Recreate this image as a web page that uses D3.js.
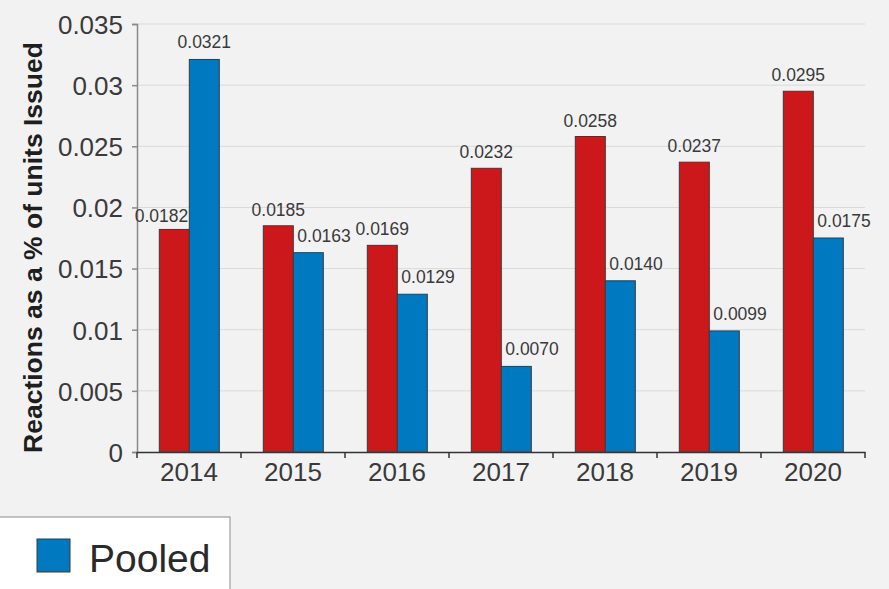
<!DOCTYPE html>
<html>
<head>
<meta charset="utf-8">
<script src="https://cdn.jsdelivr.net/npm/d3@7"></script>
<style>
  html, body { margin: 0; padding: 0; background: #f2f2f2; }
  svg { display: block; }
</style>
</head>
<body>
<svg id="chart" width="889" height="589"></svg>
<script>
// ---- data ----
const years = ["2014", "2015", "2016", "2017", "2018", "2019", "2020"];
const otherValues = [0.0182, 0.0185, 0.0169, 0.0232, 0.0258, 0.0237, 0.0295];
const pooledValues = [0.0321, 0.0163, 0.0129, 0.0070, 0.0140, 0.0099, 0.0175];
const yTicks = [0, 0.005, 0.01, 0.015, 0.02, 0.025, 0.03, 0.035];
const yTickLabels = ["0", "0.005", "0.01", "0.015", "0.02", "0.025", "0.03", "0.035"];
const yTitle = "Reactions as a % of units Issued";
const legendLabel = "Pooled";

// ---- layout ----
const W = 889, H = 589;
const pLeft = 137, pRight = 865, pTop = 24, pBottom = 452;
const RED = "#cd181b", BLUE = "#0079c1";
const FONT = "'Liberation Sans', Arial, Helvetica, sans-serif";

const svg = d3.select("#chart");
svg.append("rect").attr("width", W).attr("height", H).attr("fill", "#f2f2f2");

const x = d3.scaleBand().domain(years).range([pLeft, pRight]).paddingInner(0).paddingOuter(0);
const y = d3.scaleLinear().domain([0, 0.035]).range([pBottom, pTop]);
const bw = x.bandwidth();
const barW = bw * 0.2885;
const offset = bw * 0.2145;

// gridlines
svg.append("g").selectAll("line").data(yTicks.slice(1)).join("line")
  .attr("x1", pLeft).attr("x2", pRight)
  .attr("y1", d => y(d)).attr("y2", d => y(d))
  .attr("stroke", "#dadada").attr("stroke-width", 1);

// y axis
const yAxis = d3.axisLeft(y).tickValues(yTicks)
  .tickFormat((d, i) => yTickLabels[i]).tickSize(5).tickPadding(9);
const gy = svg.append("g").attr("transform", `translate(${pLeft},0)`).call(yAxis);
gy.select(".domain").attr("stroke", "#8a8a8a").attr("stroke-width", 1.5);
gy.selectAll(".tick line").attr("stroke", "#8a8a8a").attr("stroke-width", 1.5);
gy.selectAll(".tick text").attr("font-family", FONT).attr("font-size", 26)
  .attr("fill", "#3a3a3a").attr("dy", "0.36em");

// x axis
const xAxis = d3.axisBottom(x).tickSize(0).tickPadding(10);
const gx = svg.append("g").attr("transform", `translate(0,${pBottom})`).call(xAxis);
gx.select(".domain").attr("stroke", "#333").attr("stroke-width", 1.5);
gx.selectAll(".tick text").attr("font-family", FONT).attr("font-size", 26)
  .attr("fill", "#3a3a3a").attr("dy", "0.72em");
// boundary ticks between categories
const bounds = years.map(d => x(d)).concat([x(years[years.length - 1]) + bw]);
gx.append("g").selectAll("line").data(bounds).join("line")
  .attr("x1", d => d).attr("x2", d => d).attr("y1", 0).attr("y2", 6)
  .attr("stroke", "#333").attr("stroke-width", 1.5);

// bars
const rows = years.map((yr, i) => ({ yr, a: otherValues[i], b: pooledValues[i] }));
const g = svg.append("g");
g.selectAll("rect.a").data(rows).join("rect").attr("class", "a")
  .attr("x", d => x(d.yr) + offset).attr("width", barW)
  .attr("y", d => y(d.a)).attr("height", d => y(0) - y(d.a))
  .attr("fill", RED).attr("stroke", "#3a3a3a").attr("stroke-width", 1);
g.selectAll("rect.b").data(rows).join("rect").attr("class", "b")
  .attr("x", d => x(d.yr) + offset + barW).attr("width", barW)
  .attr("y", d => y(d.b)).attr("height", d => y(0) - y(d.b))
  .attr("fill", BLUE).attr("stroke", "#3a3a3a").attr("stroke-width", 1);

// value labels (nudged away from the neighbouring taller bar)
const fmt = d3.format(".4f");
const labStyle = sel => sel.attr("font-family", FONT).attr("font-size", 17.5).attr("fill", "#3a3a3a");
g.selectAll("text.la").data(rows).join("text").attr("class", "la")
  .attr("x", d => d.a < d.b ? x(d.yr) + offset + barW - 1 : x(d.yr) + offset + barW / 2)
  .attr("text-anchor", d => d.a < d.b ? "end" : "middle")
  .attr("y", d => y(d.a) - (d.a < d.b ? 7 : 10))
  .text(d => fmt(d.a)).call(labStyle);
g.selectAll("text.lb").data(rows).join("text").attr("class", "lb")
  .attr("x", d => d.b < d.a ? x(d.yr) + offset + barW + 4 : x(d.yr) + offset + barW * 1.5)
  .attr("text-anchor", d => d.b < d.a ? "start" : "middle")
  .attr("y", d => y(d.b) - 11)
  .text(d => fmt(d.b)).call(labStyle);

// y title
svg.append("text")
  .attr("transform", `translate(42,${(40 + 455) / 2}) rotate(-90)`)
  .attr("text-anchor", "middle")
  .attr("font-family", FONT).attr("font-size", 26.5).attr("font-weight", 700)
  .attr("fill", "#1e1e1e")
  .text(yTitle);

// legend (partially cropped)
const lg = svg.append("g");
lg.append("rect").attr("x", -1).attr("y", 517).attr("width", 231).attr("height", 100)
  .attr("fill", "#ffffff").attr("stroke", "#8a8a8a").attr("stroke-width", 1);
lg.append("rect").attr("x", 37).attr("y", 539).attr("width", 33).attr("height", 33)
  .attr("fill", BLUE).attr("stroke", "#3a3a3a").attr("stroke-width", 1);
lg.append("text").attr("x", 89).attr("y", 572)
  .attr("font-family", FONT).attr("font-size", 39).attr("fill", "#2a2a2a")
  .text(legendLabel);
</script>
</body>
</html>
